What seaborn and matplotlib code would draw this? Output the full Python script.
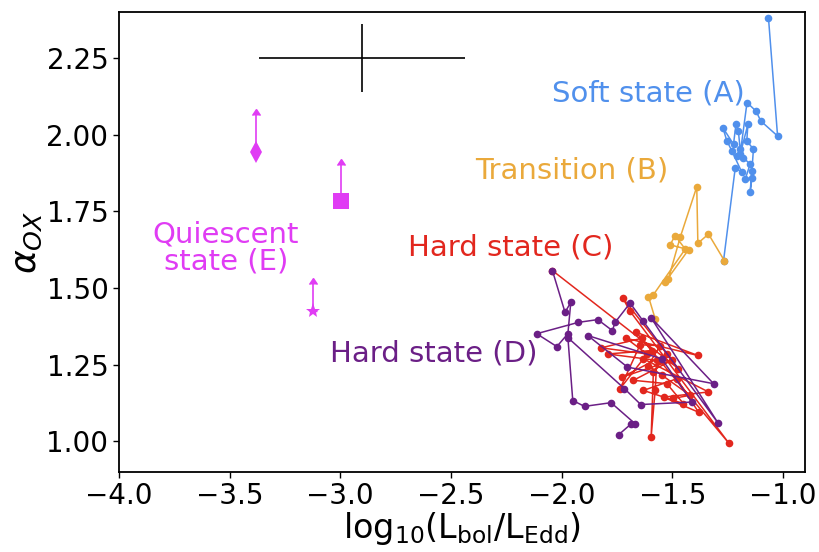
import matplotlib
matplotlib.use("Agg")
import matplotlib.pyplot as plt
import seaborn as sns
import pandas as pd

# Soft state (A)
soft_x = [-1.269, -1.216, -1.186, -1.231, -1.254, -1.272, -1.224, -1.213, -1.202, -1.194,
          -1.209, -1.179, -1.149, -1.171, -1.141, -1.149, -1.141, -1.134, -1.164, -1.159,
          -1.194, -1.163, -1.122, -1.101, -1.025, -1.066]
soft_y = [1.589, 1.893, 1.877, 1.947, 1.980, 2.023, 1.969, 2.034, 2.012, 1.953,
          1.931, 1.925, 1.904, 1.855, 1.860, 1.812, 1.882, 1.953, 1.980, 2.034,
          1.936, 2.105, 2.077, 2.045, 1.996, 2.381]

# Transition (B)
trans_x = [-1.578, -1.608, -1.586, -1.442, -1.488, -1.510, -1.427, -1.533, -1.518, -1.465,
           -1.390, -1.385, -1.337, -1.265]
trans_y = [1.400, 1.472, 1.478, 1.627, 1.671, 1.641, 1.625, 1.519, 1.530, 1.665,
           1.830, 1.646, 1.676, 1.589]

# Hard state (C)
hardc_x = [-2.042, -1.473, -1.724, -1.691, -1.244, -1.664, -1.385, -1.709, -1.615, -1.822,
           -1.638, -1.593, -1.793, -1.570, -1.578, -1.596, -1.586, -1.525, -1.728, -1.503,
           -1.676, -1.525, -1.450, -1.631, -1.480, -1.382, -1.540, -1.337, -1.631, -1.736,
           -1.646, -1.555, -1.610, -1.546, -1.420, -1.497]
hardc_y = [1.557, 1.237, 1.467, 1.424, 0.993, 1.356, 1.280, 1.336, 1.285, 1.305,
           1.336, 1.296, 1.285, 1.264, 1.166, 1.014, 1.226, 1.285, 1.209, 1.264,
           1.199, 1.188, 1.123, 1.166, 1.204, 1.095, 1.144, 1.161, 1.269, 1.172,
           1.315, 1.312, 1.247, 1.215, 1.150, 1.140]

# Hard state (D)
hardd_x = [-2.042, -1.985, -1.959, -1.972, -2.022, -2.113, -1.925, -1.837, -1.771, -1.759,
           -1.691, -1.631, -1.295, -1.596, -1.314, -1.703, -1.882, -1.548, -1.412, -1.643,
           -1.717, -1.972, -1.950, -1.897, -1.777, -1.668, -1.686, -1.742]
hardd_y = [1.557, 1.421, 1.453, 1.351, 1.309, 1.351, 1.388, 1.397, 1.361, 1.388,
           1.451, 1.391, 1.061, 1.403, 1.188, 1.242, 1.345, 1.269, 1.128, 1.120,
           1.172, 1.338, 1.133, 1.114, 1.126, 1.057, 1.057, 1.022]

# Quiescent state (E): lower limits
quies_x = [-3.381, -2.999, -3.125]
quies_y = [1.944, 1.785, 1.424]
quies_lim = [0.12, 0.115, 0.09]
quies_markers = ['d', 's', '*']
quies_sizes = [11, 11, 11]

# typical error bar
err_x, err_y = -2.901, 2.25
err_dx, err_dy = 0.465, 0.11

c_soft = '#5090ec'
c_trans = '#eaa93b'
c_hardc = '#e2271e'
c_hardd = '#6b1f86'
c_quies = '#e03cf4'

sns.set_style("ticks")
plt.rcParams['font.family'] = ['DejaVu Sans']
plt.rcParams['mathtext.fontset'] = 'dejavusans'
plt.rcParams['text.color'] = 'black'
plt.rcParams['axes.labelcolor'] = 'black'
plt.rcParams['xtick.color'] = 'black'
plt.rcParams['ytick.color'] = 'black'

fig = plt.figure(figsize=(8.2, 5.52), dpi=100)
ax = fig.add_axes([0.145, 0.145, 0.837, 0.833])

line_kw = dict(sort=False, estimator=None, marker='o', markersize=5.5,
               markeredgewidth=0, linewidth=1.1, ax=ax)
sns.lineplot(data=pd.DataFrame({'x': soft_x, 'y': soft_y}), x='x', y='y', color=c_soft, **line_kw)
sns.lineplot(data=pd.DataFrame({'x': trans_x, 'y': trans_y}), x='x', y='y', color=c_trans, **line_kw)
sns.lineplot(data=pd.DataFrame({'x': hardc_x, 'y': hardc_y}), x='x', y='y', color=c_hardc, **line_kw)
sns.lineplot(data=pd.DataFrame({'x': hardd_x, 'y': hardd_y}), x='x', y='y', color=c_hardd, **line_kw)

for qx, qy, ql, qm, qs in zip(quies_x, quies_y, quies_lim, quies_markers, quies_sizes):
    ax.errorbar(qx, qy, yerr=ql, lolims=True, color=c_quies, elinewidth=1.2, capsize=3,
                fmt='none')
    ax.plot(qx, qy, marker=qm, markersize=qs, color=c_quies, markeredgewidth=0,
            linestyle='none')

ax.errorbar(err_x, err_y, xerr=err_dx, yerr=err_dy, color='black', elinewidth=1.2,
            fmt='none')

ax.text(-1.610, 2.133, 'Soft state (A)', color=c_soft, fontsize=21, ha='center', va='center')
ax.text(-1.953, 1.882, 'Transition (B)', color=c_trans, fontsize=21, ha='center', va='center')
ax.text(-2.231, 1.632, 'Hard state (C)', color=c_hardc, fontsize=21, ha='center', va='center')
ax.text(-2.580, 1.286, 'Hard state (D)', color=c_hardd, fontsize=21, ha='center', va='center')
ax.text(-3.517, 1.632, 'Quiescent\nstate (E)', color=c_quies, fontsize=21, ha='center',
        va='center', linespacing=0.95)

ax.set_xlim(-4.0, -0.9)
ax.set_ylim(0.9, 2.4)
ax.set_xticks([-4.0, -3.5, -3.0, -2.5, -2.0, -1.5, -1.0])
ax.set_yticks([1.00, 1.25, 1.50, 1.75, 2.00, 2.25])
ax.set_yticklabels(['1.00', '1.25', '1.50', '1.75', '2.00', '2.25'])
ax.tick_params(labelsize=20, length=4, width=1)
ax.set_xlabel(r'log$_{10}$(L$_{\rm bol}$/L$_{\rm Edd}$)', fontsize=24, labelpad=0)
ax.set_ylabel(r'$\alpha_{OX}$', fontsize=26, labelpad=2)
for s in ax.spines.values():
    s.set_color('black')
    s.set_linewidth(1.3)

fig.savefig('out.png', dpi=100)
